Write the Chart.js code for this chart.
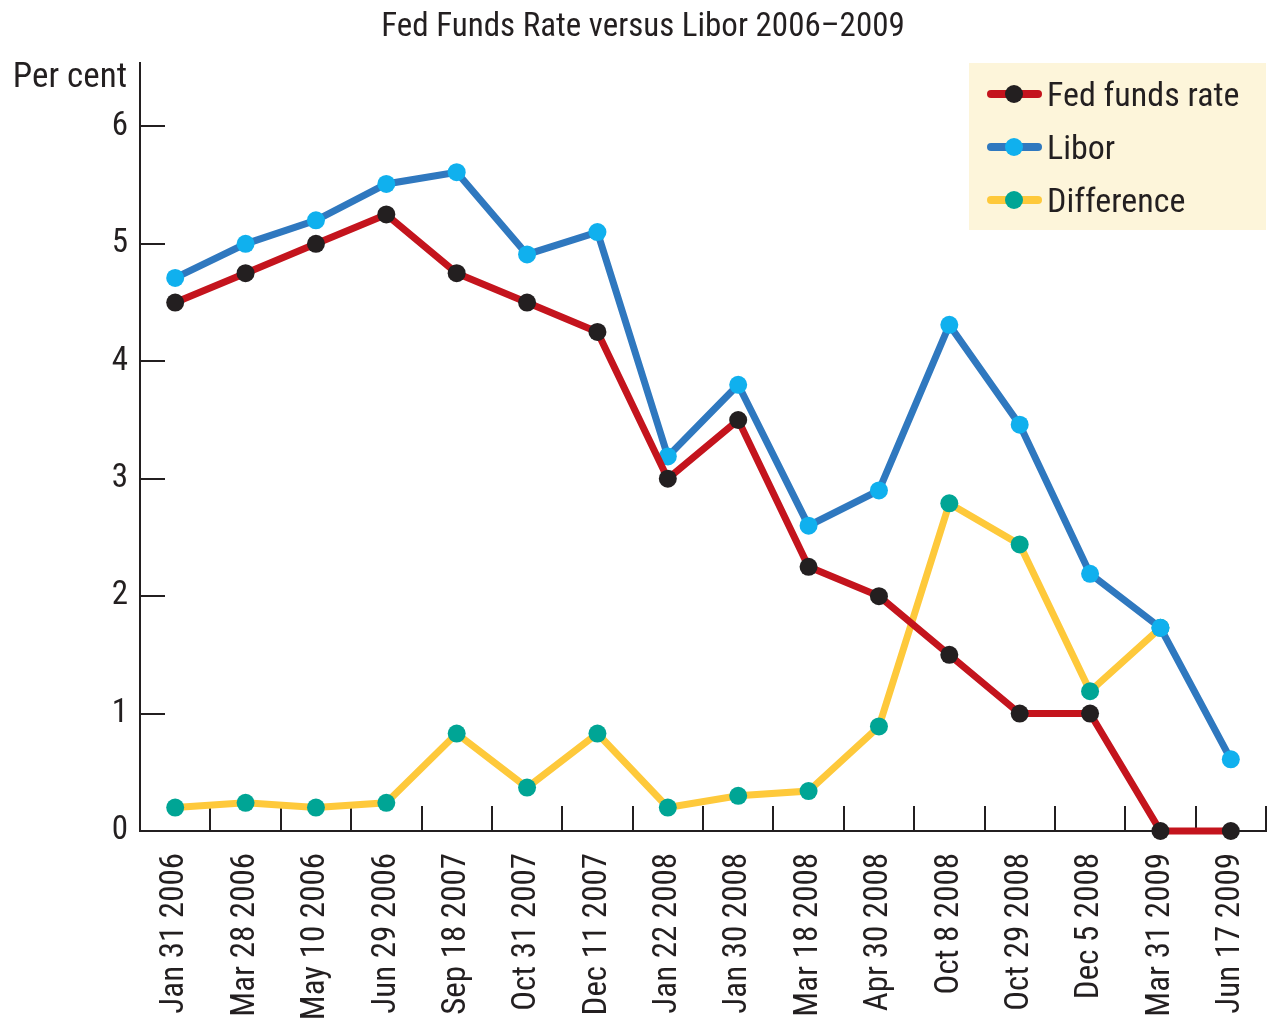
<!DOCTYPE html>
<html>
<head>
<meta charset="utf-8">
<script src="https://cdn.jsdelivr.net/npm/chart.js@4.4.0/dist/chart.umd.min.js"></script>
<style>
  html, body { margin: 0; padding: 0; background: #fff; }
  #wrap { position: relative; width: 1268px; height: 1022px; }
</style>
</head>
<body>
<div id="wrap"><canvas id="chart"></canvas></div>
<script>
const dates = [
  'Jan 31 2006', 'Mar 28 2006', 'May 10 2006', 'Jun 29 2006', 'Sep 18 2007',
  'Oct 31 2007', 'Dec 11 2007', 'Jan 22 2008', 'Jan 30 2008', 'Mar 18 2008',
  'Apr 30 2008', 'Oct 8 2008', 'Oct 29 2008', 'Dec 5 2008', 'Mar 31 2009', 'Jun 17 2009'
];
const fedFunds   = [4.5, 4.75, 5.0, 5.25, 4.75, 4.5, 4.25, 3.0, 3.5, 2.25, 2.0, 1.5, 1.0, 1.0, 0, 0];
const libor      = [4.71, 5.0, 5.2, 5.51, 5.61, 4.91, 5.1, 3.19, 3.8, 2.6, 2.9, 4.31, 3.46, 2.19, 1.73, 0.61];
const difference = [0.2, 0.24, 0.2, 0.24, 0.83, 0.37, 0.83, 0.2, 0.3, 0.34, 0.89, 2.79, 2.44, 1.19, 1.73, null];
const yTicks = [0, 1, 2, 3, 4, 5, 6];

const FONT = "'Roboto Condensed', 'DejaVu Sans Condensed', sans-serif";
const INK = '#231f20';

// tick marks that point into the plot, like the printed original
const innerTicks = {
  id: 'innerTicks',
  beforeDatasetsDraw(chart) {
    const { ctx, chartArea, scales: { x, y } } = chart;
    const len = 25;
    ctx.save();
    ctx.strokeStyle = INK;
    ctx.lineWidth = 2;
    ctx.beginPath();
    yTicks.forEach(v => {
      if (v === 0) return;
      const py = Math.round(y.getPixelForValue(v));
      ctx.moveTo(chartArea.left, py);
      ctx.lineTo(chartArea.left + len, py);
    });
    const half = (x.getPixelForValue(1) - x.getPixelForValue(0)) / 2;
    dates.forEach((d, i) => {
      const px = Math.round(x.getPixelForValue(i) + half);
      ctx.moveTo(px, chartArea.bottom);
      ctx.lineTo(px, chartArea.bottom - len);
    });
    ctx.stroke();
    ctx.restore();
  }
};

const boxLegend = {
  id: 'boxLegend',
  afterDraw(chart) {
    const { ctx } = chart;
    const left = 969, top = 63, w = 297, h = 167;
    ctx.save();
    ctx.fillStyle = '#fdf5da';
    ctx.fillRect(left, top, w, h);
    chart.data.datasets.forEach((ds, i) => {
      const cy = 94 + i * 53;
      ctx.strokeStyle = ds.borderColor;
      ctx.lineWidth = 8;
      ctx.lineCap = 'round';
      ctx.beginPath();
      ctx.moveTo(991, cy);
      ctx.lineTo(1038, cy);
      ctx.stroke();
      ctx.fillStyle = ds.pointBackgroundColor;
      ctx.beginPath();
      ctx.arc(1014, cy, 9, 0, Math.PI * 2);
      ctx.fill();
      ctx.fillStyle = INK;
      ctx.font = '34px ' + FONT;
      ctx.textAlign = 'left';
      ctx.textBaseline = 'middle';
      ctx.fillText(ds.label, 1047, cy + 3);
    });
    // unit label above the y axis
    ctx.fillStyle = INK;
    ctx.font = '35px ' + FONT;
    ctx.textAlign = 'right';
    ctx.textBaseline = 'middle';
    ctx.fillText('Per cent', 127, 78);
    ctx.restore();
  }
};

const mkSet = (label, data, line, dot) => ({
  label, data,
  borderColor: line,
  borderWidth: 7,
  pointBackgroundColor: dot,
  pointBorderWidth: 0,
  pointRadius: 9,
  pointHoverRadius: 9,
  tension: 0,
  spanGaps: false,
  clip: false
});

new Chart(document.getElementById('chart'), {
  type: 'line',
  data: {
    labels: dates,
    datasets: [
      mkSet('Fed funds rate', fedFunds, '#c4141d', '#231f20'),
      mkSet('Libor', libor, '#2f78bf', '#10b0ee'),
      mkSet('Difference', difference, '#fec93b', '#00a595')
    ]
  },
  options: {
    responsive: true,
    maintainAspectRatio: false,
    animation: false,
    layout: { autoPadding: false, padding: { left: 20, right: 2, top: 0, bottom: 0 } },
    plugins: {
      legend: { display: false },
      tooltip: { enabled: false },
      title: {
        display: true,
        text: 'Fed Funds Rate versus Libor 2006–2009',
        color: INK,
        font: { family: FONT, size: 33, weight: 'normal', lineHeight: 1.2 },
        padding: { top: 8, bottom: 15.4 }
      }
    },
    scales: {
      x: {
        offset: true,
        grid: { display: true, drawOnChartArea: false, drawTicks: false, offset: true },
        border: { display: true, color: INK, width: 2 },
        ticks: {
          autoSkip: false,
          maxRotation: 90,
          minRotation: 90,
          padding: 22,
          color: INK,
          font: { family: FONT, size: 33 }
        },
        afterFit(scale) {
          scale.height = 191;
          scale.paddingLeft = 0;
          scale.paddingRight = 0;
        }
      },
      y: {
        min: 0,
        max: 6.54,
        grid: { display: true, drawOnChartArea: false, drawTicks: false },
        border: { display: true, color: INK, width: 2 },
        ticks: {
          stepSize: 1,
          includeBounds: false,
          padding: 12,
          color: INK,
          font: { family: FONT, size: 33 }
        },
        afterFit(scale) {
          scale.width = 120;
          scale.paddingTop = 0;
          scale.paddingBottom = 0;
        }
      }
    }
  },
  plugins: [innerTicks, boxLegend]
});
</script>
</body>
</html>
